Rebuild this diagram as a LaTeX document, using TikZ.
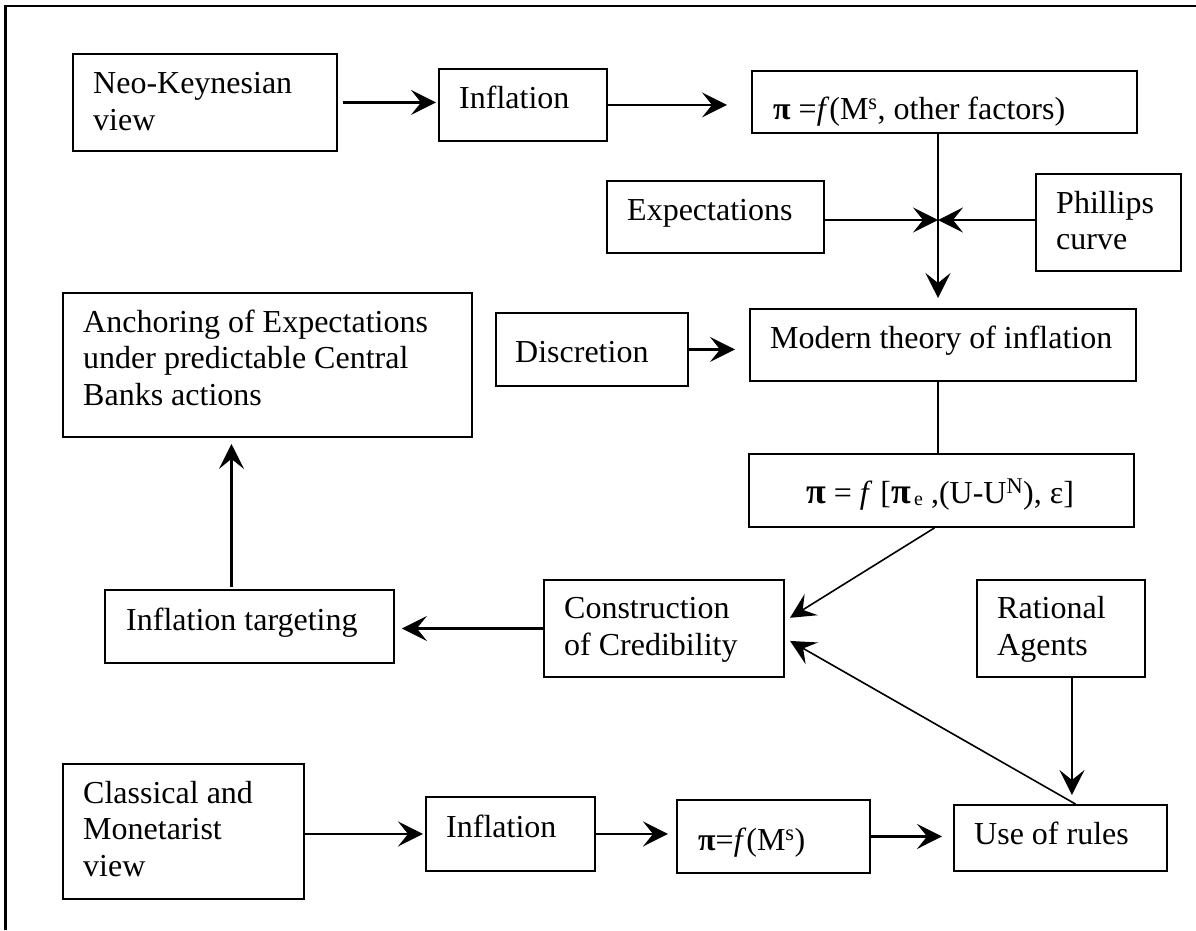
\documentclass[tikz,border=0pt]{standalone}
\usepackage{fontspec}
\setmainfont{Liberation Serif}
\usetikzlibrary{arrows.meta,calc}
\newcommand\bodyfont{\fontsize{32}{36.5}\selectfont}
\newcommand\bigpi{{\bfseries\fontsize{36}{40}\selectfont π}}
% empty framed panel: name, left, top, right, bottom
\newcommand\panel[5]{\node[box, minimum width={#4-#2}, minimum height={#5-#3}] (#1) at (#2,#3) {};}
\begin{document}
\begin{tikzpicture}[x=1pt,y=-1pt,
  box/.style={draw, line width=1.9pt, anchor=north west, inner sep=0pt},
  lbl/.style={anchor=base west, inner sep=0pt, align=left, font=\bodyfont},
  clbl/.style={anchor=base, inner sep=0pt, font=\bodyfont},
  arr/.style={line width=2.1pt, -{Stealth[length=25pt,width=25pt,inset=10pt]}},
  thinarr/.style={line width=1.6pt, -{Stealth[length=25pt,width=25pt,inset=10pt]}},
  link/.style={line width=1.5pt},
]
\useasboundingbox (0,0) rectangle (1196,930);

% outer frame
\draw[line width=2.2pt] (5.5,930) -- (5.5,6) -- (1196,6);

% panels
\panel{neo}{72}{53}{336}{150}
\panel{infA}{438}{68}{606}{140}
\panel{piA}{751}{70}{1136}{132}
\panel{expt}{606}{180}{823}{252}
\panel{phil}{1035}{173}{1180}{270}
\panel{disc}{495}{312}{687}{385}
\panel{modern}{749}{308}{1135}{380}
\panel{anch}{62}{292}{471}{436}
\panel{piB}{748}{453}{1133}{526}
\panel{target}{104}{589}{393}{662}
\panel{cred}{543}{579}{783}{676}
\panel{ratio}{976}{579}{1144}{676}
\panel{classic}{62}{763}{303}{898}
\panel{infB}{425}{796}{594}{870}
\panel{piC}{676}{799}{869}{872}
\panel{rules}{953}{804}{1166}{870}

% texts (multi-line labels are placed by the baseline of their last line)
\node[lbl] (tneo) at (93,130) {Neo-Keynesian\\view};
\node[lbl] (tinfA) at (459,108) {Inflation};
\node[lbl] (tpiA) at (773,119) {{\bfseries π} =\textit{f}(M\textsuperscript{s}, other factors)};
\node[lbl] (texpt) at (627,220) {Expectations};
\node[lbl] (tphil) at (1056,249.5) {Phillips\\curve};
\node[lbl] (tdisc) at (515,362) {Discretion};
\node[lbl] (tmodern) at (770,348) {Modern theory of inflation};
\node[lbl] (tanch) at (83,405) {Anchoring of Expectations\\under predictable Central\\Banks actions};
\node[clbl] (tpiB) at (940,503) {\bigpi{} = \textit{f} [\bigpi\raisebox{-2pt}{\fontsize{20}{20}\selectfont\,e} ,(U-U\textsuperscript{N}), ε]};
\node[lbl] (ttarget) at (126,630) {Inflation targeting};
\node[lbl] (tcred) at (564,655) {Construction\\of Credibility};
\node[lbl] (tratio) at (997,655) {Rational\\Agents};
\node[lbl] (tclassic) at (83,876) {Classical and\\Monetarist\\view};
\node[lbl] (tinfB) at (446,837) {Inflation};
\node[lbl] (tpiC) at (698,850) {{\bfseries π}=\textit{f}(M\textsuperscript{s})};
\node[lbl] (trules) at (974,844) {Use of rules};

% connectors
\coordinate (jct) at (938,220);
\draw[arr, shorten <=5pt, shorten >=2pt] (neo.east) -- (neo.east -| infA.west);
\draw[arr, shorten >=24pt] (infA.east) -- (infA.east -| piA.west);
\draw[arr] (expt.east |- jct) -- (jct);
\draw[arr] (phil.west |- jct) -- (jct);
\draw[arr, shorten >=10pt] (piA.south -| jct) -- (jct |- modern.north);
\draw[arr, shorten >=14pt] (disc.east) -- (disc.east -| modern.west);
\draw[link] (modern.south -| jct) -- (jct |- piB.north);
\draw[thinarr, shorten >=6pt] ([xshift=-7pt]piB.south) -- ($(cred.east)+(0,-7.5)$);
\draw[thinarr, shorten >=6pt] ([xshift=15pt]rules.north) -- ($(cred.east)+(0,9.5)$);
\draw[arr, shorten >=7pt] (cred.west) -- (cred.west -| target.east);
\draw[arr, shorten <=2pt, shorten >=6pt] ([xshift=-18pt]target.north) -- ([xshift=-18pt]target.north |- anch.south);
\draw[arr, shorten >=9pt] ([xshift=11pt]ratio.south) -- ([xshift=11pt]ratio.south |- rules.north);
\draw[arr, shorten >=2pt] (classic.east |- infB.west) -- (infB.west);
\draw[arr, shorten >=8pt] (infB.east) -- (infB.east -| piC.west);
\draw[arr, shorten >=11pt] (piC.east) -- (piC.east -| rules.west);
\end{tikzpicture}
\end{document}
